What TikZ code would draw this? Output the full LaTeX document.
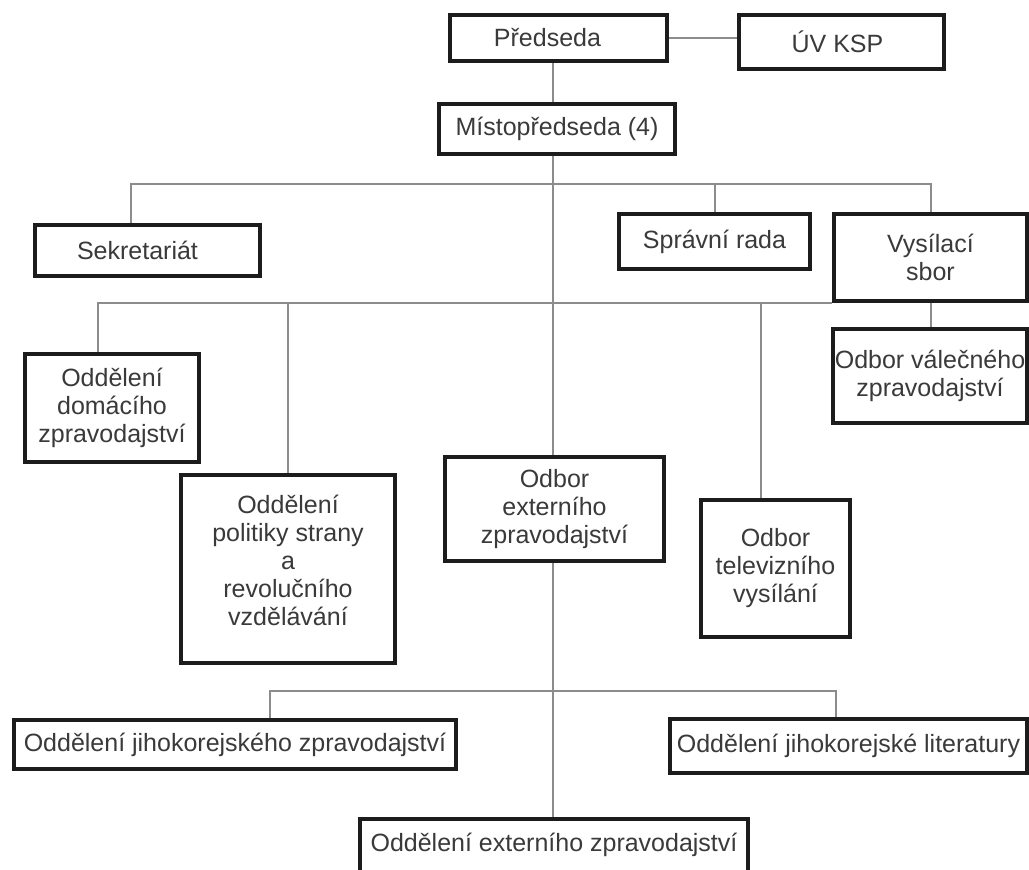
\documentclass[tikz,border=0pt]{standalone}
\usepackage{fontspec}
\setmainfont{Liberation Sans}
\definecolor{txtgray}{HTML}{3A3A3A}
\definecolor{linegray}{HTML}{8C8C8C}
\definecolor{boxblack}{HTML}{1C1C1C}
\tikzset{
  orgbox/.style={draw=boxblack, line width=2.2pt, fill=white, inner sep=0pt, align=center,
    text=txtgray, font=\fontsize{12.5}{14}\selectfont},
  conn/.style={draw=linegray, line width=1pt}
}
\begin{document}
\begin{tikzpicture}[x=0.5pt, y=-0.5pt]
\useasboundingbox (0,0) rectangle (1029,870);
\fill[white] (0,0) rectangle (1029,870);
\clip (0,0) rectangle (1029,870);

% spine and bus coordinates
\coordinate (sp) at (553,0);
\coordinate (b1) at (131,184);
\coordinate (b2) at (98,303);
\coordinate (tvx) at (761,303);
\coordinate (b3) at (270,691);
\coordinate (b3r) at (836,691);

% nodes
\node[orgbox, minimum width=108.5pt, minimum height=23pt] (pred) at (558.5,38) {Předseda\kern11pt};
\node[orgbox, minimum width=102.5pt, minimum height=27pt] (uv) at (841.5,42) {ÚV KSP\kern4pt};
\node[orgbox, minimum width=118pt, minimum height=25pt] (mist) at (557,129) {Místopředseda (4)};
\node[orgbox, minimum width=112.5pt, minimum height=25.5pt] (sekr) at (147.5,250.5) {Sekretariát\kern10pt};
\node[orgbox, minimum width=95.5pt, minimum height=27.5pt] (sprav) at (714.5,241.5) {Správní rada};
\node[orgbox, minimum width=96.5pt, minimum height=43.5pt] (vys) at (930.5,257.5) {Vysílací\\sbor};
\node[orgbox, minimum width=87pt, minimum height=54pt] (dom) at (112,408) {Oddělení\\domácího\\zpravodajství};
\node[orgbox, minimum width=97pt, minimum height=47pt] (val) at (930,376) {Odbor válečného\\zpravodajství};
\node[orgbox, minimum width=107pt, minimum height=94pt, text depth=9pt] (pol) at (288,569) {Oddělení\\politiky strany\\a\\revolučního\\vzdělávání};
\node[orgbox, minimum width=109.5pt, minimum height=52pt] (ext) at (554.5,509) {Odbor\\externího\\zpravodajství};
\node[orgbox, minimum width=74.5pt, minimum height=68.5pt] (tv) at (775.5,568.5) {Odbor\\televizního\\vysílání};
\node[orgbox, minimum width=221pt, minimum height=24.5pt] (jk) at (235,744.5) {Oddělení jihokorejského zpravodajství};
\node[orgbox, minimum width=178.5pt, minimum height=27pt] (lit) at (848.5,746) {Oddělení jihokorejské literatury};
\node[orgbox, minimum width=194pt, minimum height=29pt, text depth=6pt] (oext) at (554,848) {Oddělení externího zpravodajství};

% connectors
\draw[conn] (pred.east) -- (pred.east -| uv.west);
\draw[conn] (pred.south -| sp) -- (mist.north -| sp);
\draw[conn] (mist.south -| sp) -- (ext.north -| sp);
\draw[conn] (ext.south -| sp) -- (oext.north -| sp);
% bus 1
\draw[conn] (b1 |- sekr.north) -- (b1) -- (b1 -| vys.north) -- (vys.north);
\draw[conn] (sprav.north) -- (sprav.north |- b1);
% bus 2
\draw[conn] (b2 |- dom.north) -- (b2) -- (b2 -| vys.west);
\draw[conn] (pol.north) -- (pol.north |- b2);
\draw[conn] (tvx) -- (tvx |- tv.north);
\draw[conn] (vys.south) -- (vys.south |- val.north);
% bus 3
\draw[conn] (b3 |- jk.north) -- (b3) -- (b3r) -- (b3r |- lit.north);
\end{tikzpicture}
\end{document}
